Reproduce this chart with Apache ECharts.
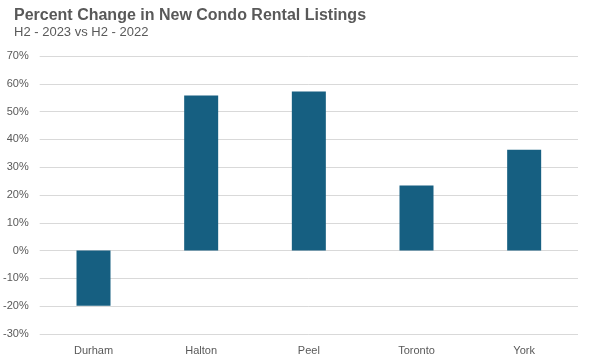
<!DOCTYPE html>
<html><head><meta charset="utf-8">
<script src="https://cdn.jsdelivr.net/npm/echarts@6/dist/echarts.min.js"></script>
<style>html,body{margin:0;padding:0;background:#fff}#c{width:598px;height:361px}</style>
</head><body><div id="c"></div>
<script>
const categories = ["Durham", "Halton", "Peel", "Toronto", "York"];
const values = [-19.8, 55.8, 57.2, 23.4, 36.3];
const yMin = -30, yMax = 70, yStep = 10;

const chart = echarts.init(document.getElementById('c'), null, {renderer: 'canvas'});
chart.setOption({
  animation: false,
  backgroundColor: '#fff',
  title: {
    text: 'Percent Change in New Condo Rental Listings',
    subtext: 'H2 - 2023 vs H2 - 2022',
    left: 9, top: 3,
    itemGap: 2,
    textStyle: {fontFamily: 'Liberation Sans', fontSize: 16, fontWeight: 'bold', color: '#595959'},
    subtextStyle: {fontFamily: 'Liberation Sans', fontSize: 13, color: '#595959'}
  },
  grid: {left: 38, right: 20, top: 56, bottom: 27, containLabel: false},
  xAxis: {
    type: 'category', data: categories,
    axisLine: {show: false}, axisTick: {show: false},
    axisLabel: {fontFamily: 'Liberation Sans', fontSize: 11, color: '#595959', margin: 11}
  },
  yAxis: {
    type: 'value', min: yMin, max: yMax, interval: yStep,
    axisLine: {show: false}, axisTick: {show: false},
    axisLabel: {formatter: '{value}%', fontFamily: 'Liberation Sans', fontSize: 11, color: '#595959', margin: 11},
    splitLine: {lineStyle: {color: '#d9d9d9', width: 1}}
  },
  series: [{
    type: 'bar', data: values, barWidth: 34,
    itemStyle: {color: '#165f81'}
  }]
});
</script></body></html>
